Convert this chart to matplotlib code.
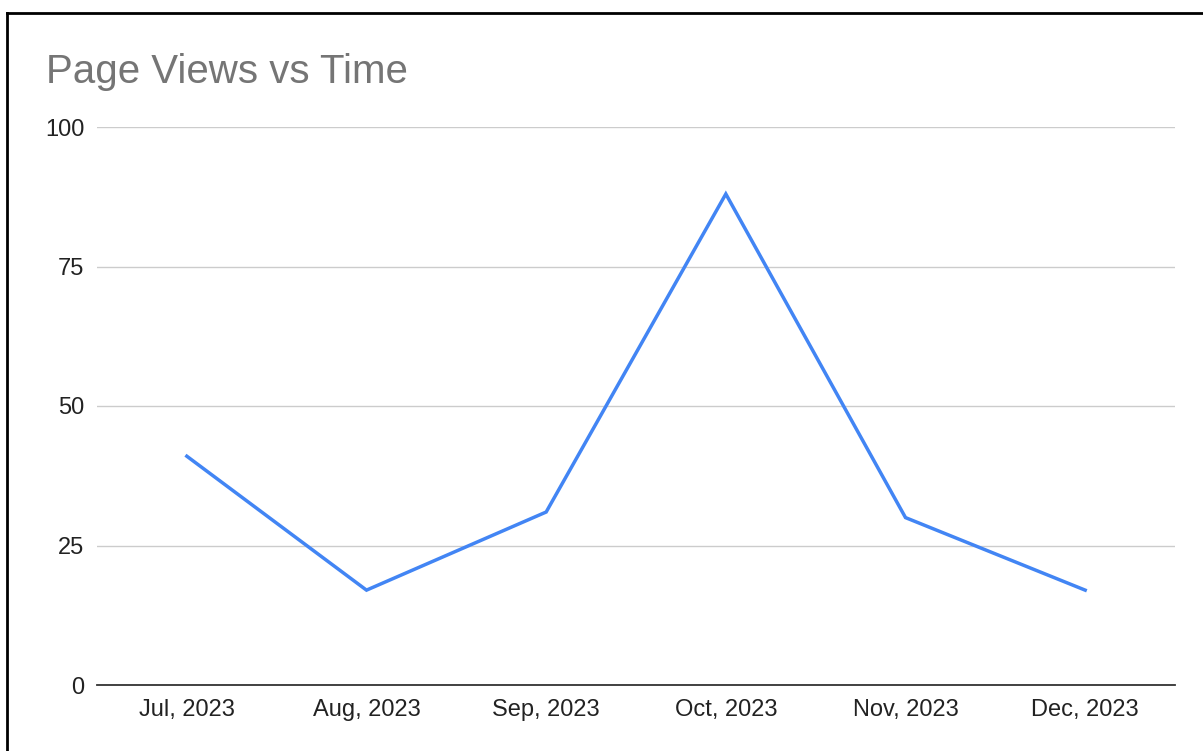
import matplotlib.pyplot as plt
from matplotlib.lines import Line2D

#chart data
months = ['Jul, 2023', 'Aug, 2023', 'Sep, 2023', 'Oct, 2023', 'Nov, 2023', 'Dec, 2023']
views = [41, 17, 31, 88, 30, 17]
yticks = [0, 25, 50, 75, 100]

W, H = 1203, 751
fig = plt.figure(figsize=(W / 100, H / 100), dpi=100)
plt.rcParams['font.family'] = ['Liberation Sans', 'DejaVu Sans']

#plot area in pixels: x 97..1175, y 127..685
ax = fig.add_axes([97 / W, 1 - 685 / H, (1175 - 97) / W, (685 - 127) / H])
ax.plot(range(len(months)), views, color='#4285F4', linewidth=2.5, solid_joinstyle='miter')
ax.set_xlim(-0.5, len(months) - 0.5)
ax.set_ylim(0, 100)
ax.set_xticks(range(len(months)))
ax.set_xticklabels(months)
ax.set_yticks(yticks)
ax.tick_params(length=0, labelsize=17, colors='#222222')
ax.tick_params(axis='x', pad=10)
ax.tick_params(axis='y', pad=9)
ax.yaxis.grid(True, color='#cccccc', linewidth=1)
ax.set_axisbelow(True)
for s in ['top', 'right', 'left']:
    ax.spines[s].set_visible(False)
ax.spines['bottom'].set_color('#333333')
ax.spines['bottom'].set_linewidth(1.3)
ax.spines['bottom'].set_zorder(3)

#title
fig.text(46 / W, 1 - 72 / H, 'Page Views vs Time', fontsize=29, color='#757575',
         ha='left', va='center')

#screenshot frame
fig.add_artist(Line2D([7 / W, 7 / W], [0, 1 - 13 / H], color='black', linewidth=2))
fig.add_artist(Line2D([7 / W, 1], [1 - 13 / H, 1 - 13 / H], color='black', linewidth=2))

fig.savefig('out.png', dpi=100)
